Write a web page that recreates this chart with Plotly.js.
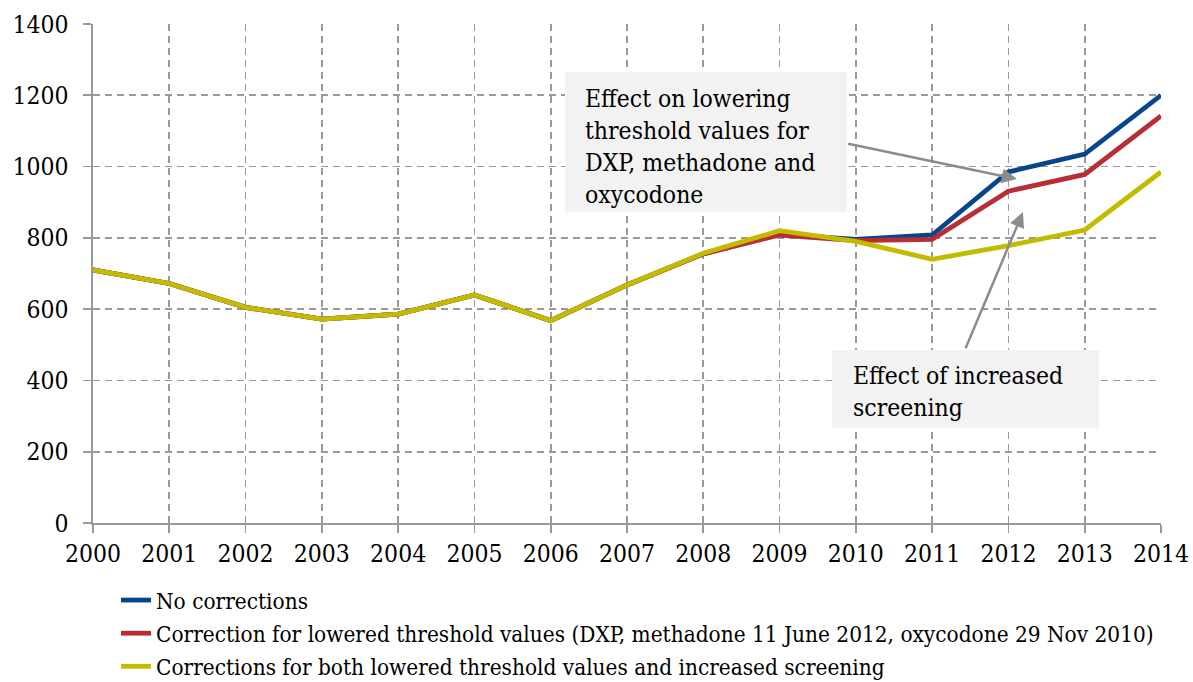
<!DOCTYPE html>
<html>
<head>
<meta charset="utf-8">
<script src="https://cdn.plot.ly/plotly-3.0.1.min.js"></script>
<style>html,body{margin:0;padding:0;background:#fff;}#chart{width:1193px;height:682px;}</style>
</head>
<body>
<div id="chart"></div>
<script>
const years = [2000,2001,2002,2003,2004,2005,2006,2007,2008,2009,2010,2011,2012,2013,2014];
const noCorrections = [710,672,605,572,586,640,568,668,755,810,796,808,985,1035,1200];
const thresholdCorrected = [710,672,605,572,586,640,568,668,755,808,792,796,931,978,1142];
const bothCorrected = [710,672,605,572,586,640,568,668,757,820,790,740,778,822,985];
const seriesNames = [
  "No corrections",
  "Correction for lowered threshold values (DXP, methadone 11 June 2012, oxycodone 29 Nov 2010)",
  "Corrections for both lowered threshold values and increased screening"
];
const colors = ["#06468a", "#b82d36", "#c2bb00"];
const FONT = "'DejaVu Serif Condensed', 'DejaVu Serif', serif";

const data = [noCorrections, thresholdCorrected, bothCorrected].map((ys, i) => ({
  x: years, y: ys, type: "scatter", mode: "lines", name: seriesNames[i],
  legendgroup: "g" + i,
  line: {color: colors[i], width: 4.8}
}));

// plot area: x 93..1161 px, y 24..523 px
const px = v => (v - 93) / 1068;
const py = v => (523 - v) / 499;

const layout = {
  width: 1193, height: 682,
  margin: {l: 93, r: 32, t: 24, b: 159, autoexpand: false},
  paper_bgcolor: "#fff", plot_bgcolor: "#fff",
  font: {family: FONT, color: "#000", size: 20},
  showlegend: true,
  legend: {x: px(116), y: py(579), xanchor: "left", yanchor: "top", orientation: "v",
           font: {family: FONT, size: 22.4, color: "#000"}, tracegroupgap: 1,
           itemwidth: 30, bgcolor: "rgba(0,0,0,0)"},
  xaxis: {range: [2000, 2014], tickvals: years, ticktext: years.map(String),
          showgrid: true, gridcolor: "#999", griddash: "7px,5px", gridwidth: 1.6,
          showline: true, linecolor: "#999", linewidth: 1.6,
          ticks: "outside", ticklen: 8, tickcolor: "#999", tickwidth: 1.6,
          tickfont: {family: FONT, size: 24.5, color: "#000"}, zeroline: false,
          fixedrange: true},
  yaxis: {range: [0, 1400], dtick: 200, tick0: 0,
          showgrid: true, gridcolor: "#999", griddash: "7px,5px", gridwidth: 1.6,
          showline: true, linecolor: "#999", linewidth: 1.6,
          ticks: "outside", ticklen: 8, tickcolor: "#999", tickwidth: 1.6,
          ticklabelstandoff: 10,
          tickfont: {family: FONT, size: 24.5, color: "#000"}, zeroline: false,
          fixedrange: true},
  shapes: [
    {type: "rect", xref: "paper", yref: "paper", x0: px(565), x1: px(847), y0: py(212), y1: py(72),
     fillcolor: "#f2f2f2", line: {width: 0}, layer: "above"},
    {type: "rect", xref: "paper", yref: "paper", x0: px(832), x1: px(1099), y0: py(428), y1: py(350),
     fillcolor: "#f2f2f2", line: {width: 0}, layer: "above"}
  ],
  annotations: [
    {xref: "paper", yref: "paper", x: px(583), y: py(146),
     xanchor: "left", yanchor: "middle", align: "left",
     text: "Effect on lowering<br>threshold values for<br>DXP, methadone and<br>oxycodone",
     showarrow: false, font: {family: FONT, size: 24.5, color: "#000"}},
    {xref: "paper", yref: "paper", x: px(851), y: py(391),
     xanchor: "left", yanchor: "middle", align: "left",
     text: "Effect of increased<br>screening",
     showarrow: false, font: {family: FONT, size: 24.5, color: "#000"}},
    {x: 2012.11, y: 965, xref: "x", yref: "y", ax: 2009.88, ay: 1065, axref: "x", ayref: "y",
     text: "", showarrow: true, arrowhead: 2, arrowsize: 1.2, arrowwidth: 2.5, arrowcolor: "#8c8c8c"},
    {x: 2012.19, y: 872, xref: "x", yref: "y", ax: 2011.43, ay: 486, axref: "x", ayref: "y",
     text: "", showarrow: true, arrowhead: 2, arrowsize: 1.2, arrowwidth: 2.5, arrowcolor: "#8c8c8c"}
  ]
};

Plotly.newPlot("chart", data, layout, {displayModeBar: false, staticPlot: true});
</script>
</body>
</html>
